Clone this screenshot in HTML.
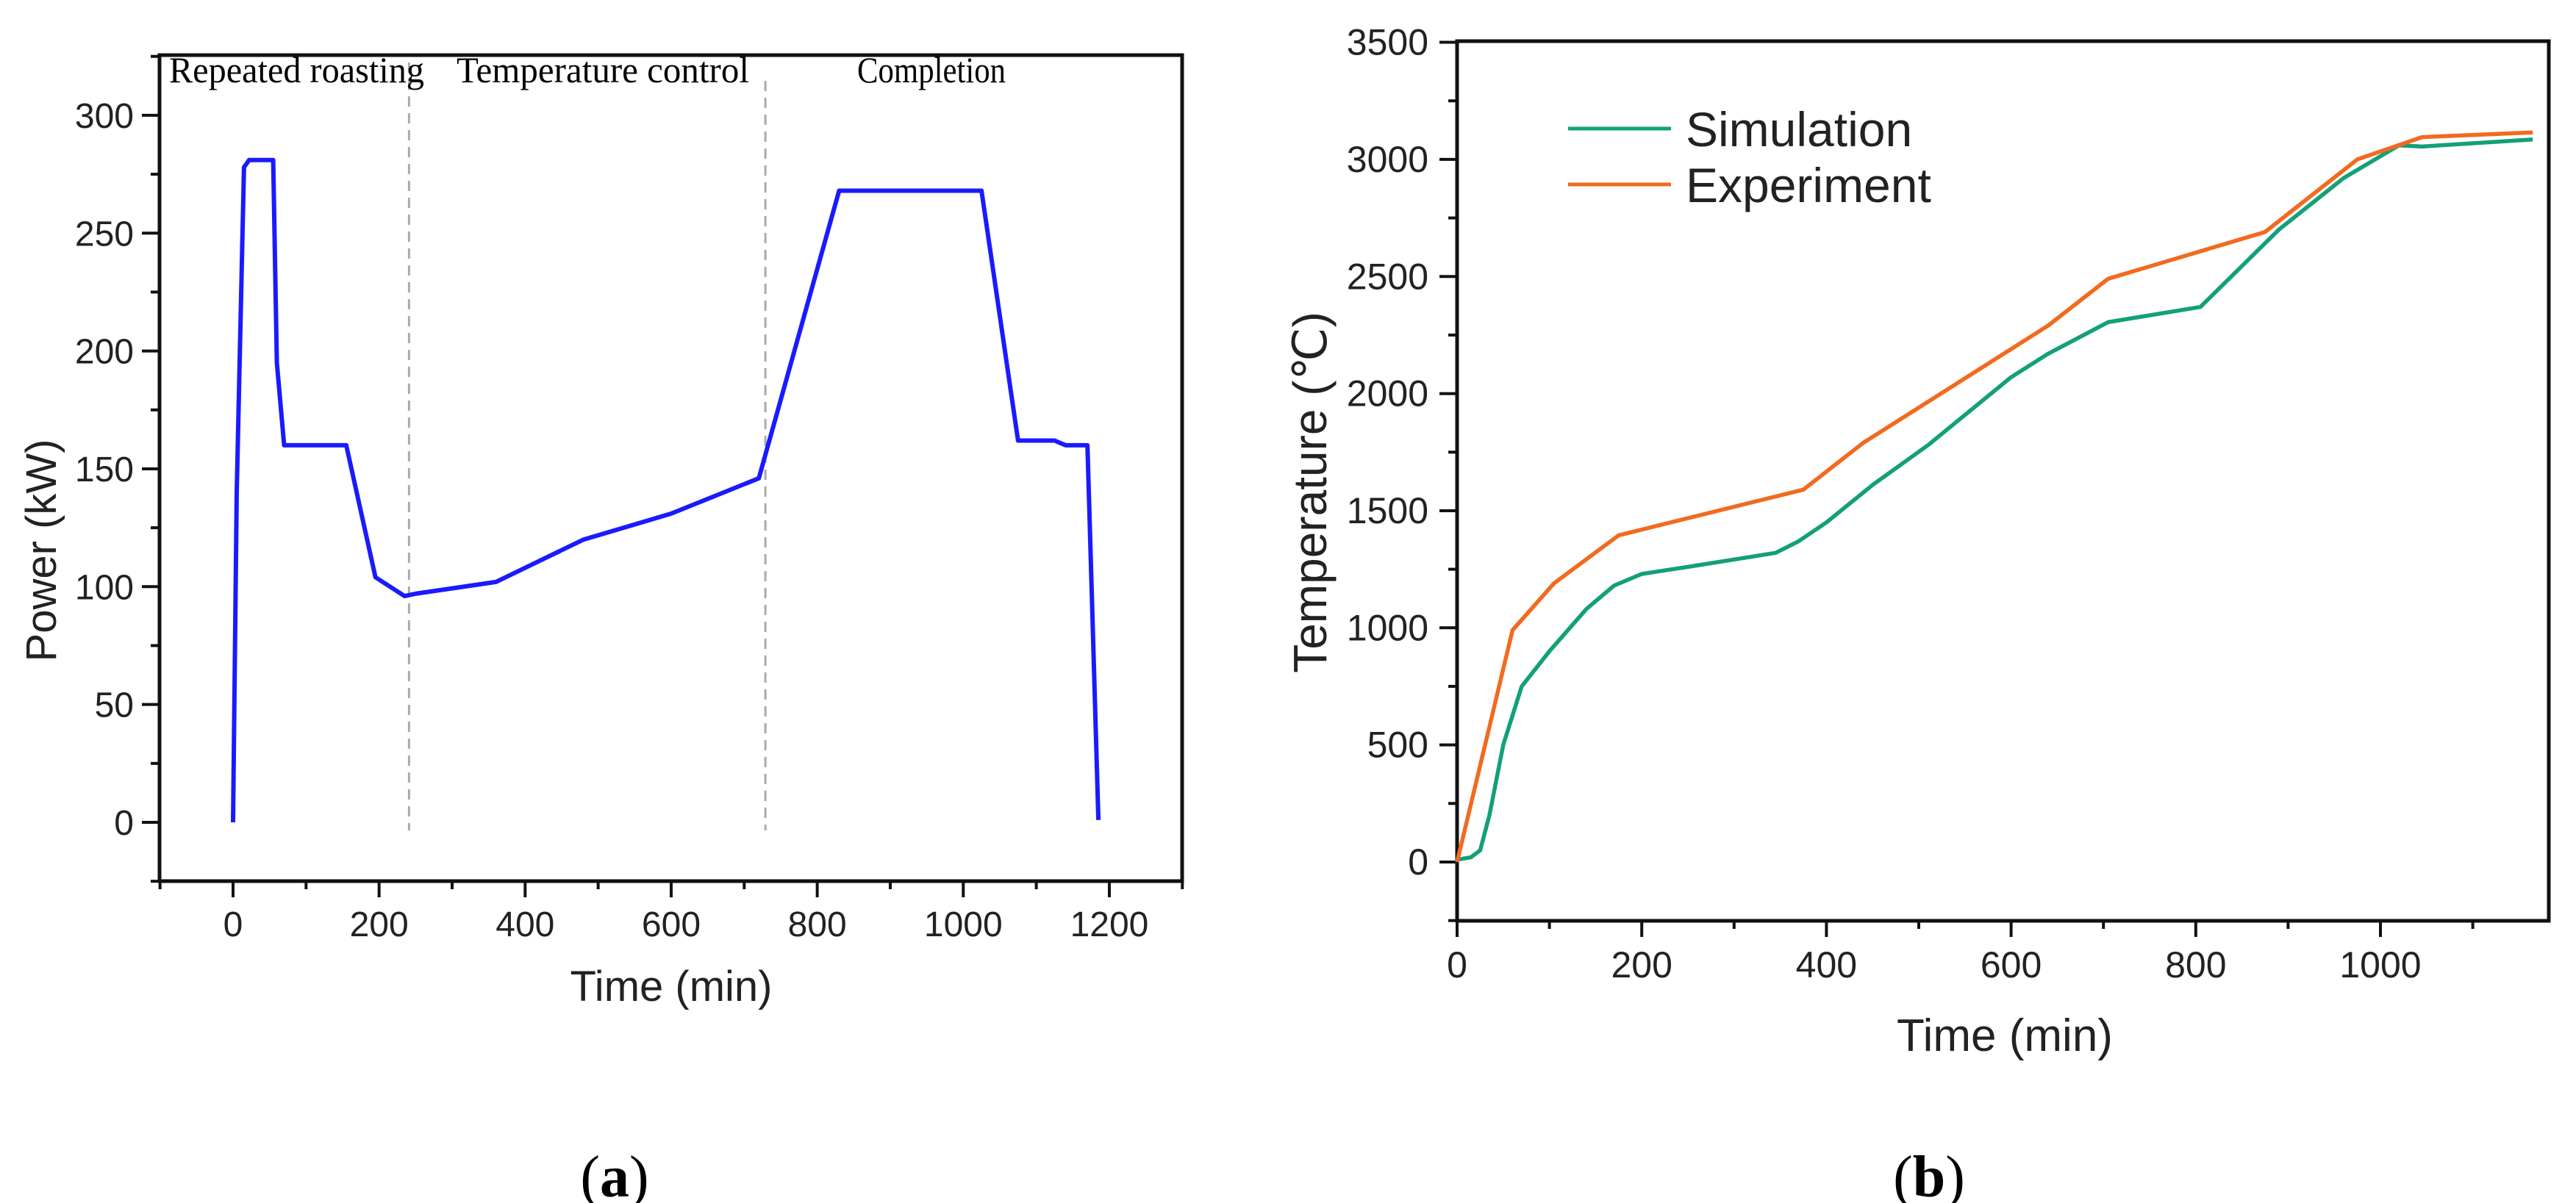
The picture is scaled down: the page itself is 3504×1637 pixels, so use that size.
<!DOCTYPE html>
<html><head><meta charset="utf-8"><style>
html,body{margin:0;padding:0;background:#fff;}
svg{display:block;}
text{font-family:"Liberation Sans",Arial,sans-serif;fill:#222;}
.serif{font-family:"Liberation Serif","Times New Roman",serif;fill:#000;}
</style></head><body>
<svg id="fig" width="3504" height="1637" viewBox="0 0 3504 1637" xmlns="http://www.w3.org/2000/svg">
<g id="ga"></g>
<g id="gb"></g>
<text class="serif" x="836" y="1628" font-size="80" text-anchor="middle">(<tspan font-weight="bold">a</tspan>)</text>
<text class="serif" x="2624" y="1628" font-size="80" text-anchor="middle">(<tspan font-weight="bold">b</tspan>)</text>
</svg>
<script>
// ---- Chart A data ----
const aTime = [0, 5, 15, 22, 55, 60, 70, 155, 195, 235, 250, 360, 480, 600, 720, 830, 1025, 1075, 1125, 1140, 1170, 1185];
const aPower = [0, 140, 278, 281, 281, 195, 160, 160, 104, 96, 97, 102, 120, 131, 146, 268, 268, 162, 162, 160, 160, 1];
const aXTicks = [0, 200, 400, 600, 800, 1000, 1200];
const aYTicks = [0, 50, 100, 150, 200, 250, 300];
const aDividers = [241, 729];
const aRegions = ["Repeated roasting", "Temperature control", "Completion"];
// ---- Chart B data ----
const bSimTime = [0, 15, 25, 35, 50, 70, 100, 140, 170, 200, 250, 345, 370, 400, 450, 510, 600, 640, 705, 805, 890, 960, 1020, 1045, 1165];
const bSimTemp = [10, 20, 50, 200, 500, 750, 900, 1080, 1180, 1230, 1260, 1320, 1370, 1450, 1610, 1780, 2070, 2170, 2305, 2370, 2700, 2920, 3060, 3055, 3085];
const bExpTime = [0, 60, 105, 175, 375, 440, 640, 705, 875, 975, 1045, 1165];
const bExpTemp = [0, 990, 1190, 1395, 1590, 1790, 2290, 2490, 2690, 3000, 3095, 3115];
const bXTicks = [0, 200, 400, 600, 800, 1000];
const bYTicks = [0, 500, 1000, 1500, 2000, 2500, 3000, 3500];
const bSeriesNames = ["Simulation", "Experiment"];

const NS = "http://www.w3.org/2000/svg";
function mk(parent, tag, attrs, txt) {
  const e = document.createElementNS(NS, tag);
  for (const k in attrs) e.setAttribute(k, attrs[k]);
  if (txt !== undefined) e.textContent = txt;
  parent.appendChild(e);
  return e;
}

// ===== Chart A =====
(function () {
  const g = document.getElementById('ga');
  const L = 217, R = 1608, T = 75, B = 1199;
  const x = v => 317 + (v - 0) * 0.9933;
  const y = v => 1119 - v * 3.207;
  let e = mk(g, 'rect', {x: L, y: T, width: R - L, height: B - T, fill: 'none', stroke: '#111', 'stroke-width': 5});
  
  
  for (let v = -100; v <= 1300; v += 100) {
    const major = aXTicks.includes(v);
    e = mk(g, 'line', {x1: x(v), x2: x(v), y1: B, y2: B + (major ? 22 : 11), stroke: '#111', 'stroke-width': 4});
    
    
  }
  aXTicks.forEach(v => {
    e = mk(g, 'text', {x: x(v), y: 1274, 'font-size': 48, 'text-anchor': 'middle'}, String(v));
    
    
  });
  for (let v = -25; v <= 325; v += 25) {
    const major = aYTicks.includes(v);
    e = mk(g, 'line', {x1: L, x2: L - (major ? 24 : 12), y1: y(v), y2: y(v), stroke: '#111', 'stroke-width': 4});
    
    
  }
  aYTicks.forEach(v => {
    e = mk(g, 'text', {x: 182, y: y(v) + 17, 'font-size': 48, 'text-anchor': 'end'}, String(v));
    
    
  });
  aDividers.forEach(v => {
    e = mk(g, 'line', {x1: x(v), x2: x(v), y1: v < 500 ? 85 : 110, y2: 1130, stroke: '#aaa', 'stroke-width': 3, 'stroke-dasharray': '14 9'});
    
    
  });
  const regionX = [230, 621, 1166], regionW = [347, 398, 202];
  aRegions.forEach((s, i) => {
    e = mk(g, 'text', {x: regionX[i], y: 112, 'font-size': 50, textLength: regionW[i], lengthAdjust: 'spacingAndGlyphs', class: 'serif'}, s);
    
    
  });
  const pts = aTime.map((t, i) => x(t).toFixed(1) + ',' + y(aPower[i]).toFixed(1)).join(' ');
  e = mk(g, 'polyline', {points: pts, fill: 'none', stroke: '#1a1aff', 'stroke-width': 6, 'stroke-linejoin': 'round'});
  
  
  e = mk(g, 'text', {x: 913, y: 1362, 'font-size': 58, 'text-anchor': 'middle'}, 'Time (min)');
  
  
  e = mk(g, 'text', {x: 0, y: 0, 'font-size': 58, 'text-anchor': 'middle', transform: 'translate(76,749) rotate(-90)'}, 'Power (kW)');
  
  
})();

// ===== Chart B =====
(function () {
  const g = document.getElementById('gb');
  const L = 1982, R = 3467, T = 56, B = 1253;
  const x = v => 1982 + v * 1.256;
  const y = v => 1173 - v * 0.3187;
  let e = mk(g, 'rect', {x: L, y: T, width: R - L, height: B - T, fill: 'none', stroke: '#111', 'stroke-width': 5});
  
  
  for (let v = 0; v <= 1100; v += 100) {
    const major = bXTicks.includes(v);
    e = mk(g, 'line', {x1: x(v), x2: x(v), y1: B, y2: B + (major ? 22 : 11), stroke: '#111', 'stroke-width': 4});
    
    
  }
  bXTicks.forEach(v => {
    e = mk(g, 'text', {x: x(v), y: 1330, 'font-size': 50, 'text-anchor': 'middle'}, String(v));
    
    
  });
  for (let v = -250; v <= 3500; v += 250) {
    const major = bYTicks.includes(v);
    e = mk(g, 'line', {x1: L, x2: L - (major ? 24 : 12), y1: y(v), y2: y(v), stroke: '#111', 'stroke-width': 4});
    
    
  }
  bYTicks.forEach(v => {
    e = mk(g, 'text', {x: 1943, y: y(v) + 17, 'font-size': 50, 'text-anchor': 'end'}, String(v));
    
    
  });
  const sim = bSimTime.map((t, i) => x(t).toFixed(1) + ',' + y(bSimTemp[i]).toFixed(1)).join(' ');
  e = mk(g, 'polyline', {points: sim, fill: 'none', stroke: '#13a079', 'stroke-width': 5.5, 'stroke-linejoin': 'round'});
  
  
  const exp = bExpTime.map((t, i) => x(t).toFixed(1) + ',' + y(bExpTemp[i]).toFixed(1)).join(' ');
  e = mk(g, 'polyline', {points: exp, fill: 'none', stroke: '#f26a1f', 'stroke-width': 5.5, 'stroke-linejoin': 'round'});
  
  
  const legCol = ['#13a079', '#f26a1f'], legY = [175, 251];
  bSeriesNames.forEach((s, i) => {
    e = mk(g, 'line', {x1: 2133, x2: 2273, y1: legY[i], y2: legY[i], stroke: legCol[i], 'stroke-width': 5});
    
    
    e = mk(g, 'text', {x: 2293, y: legY[i] + 24, 'font-size': 66}, s);
    
    
  });
  e = mk(g, 'text', {x: 2727, y: 1430, 'font-size': 62, 'text-anchor': 'middle'}, 'Time (min)');
  
  
  e = mk(g, 'text', {x: 0, y: 0, 'font-size': 64, 'text-anchor': 'middle', transform: 'translate(1804,670) rotate(-90)'}, 'Temperature (\u2103)');
  
  
})();
</script>
</body></html>
